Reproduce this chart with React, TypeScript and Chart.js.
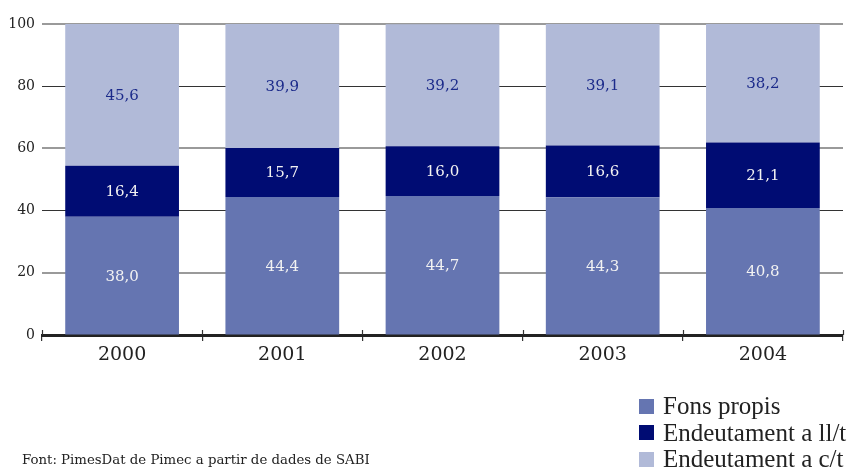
import React, { useEffect, useRef } from "react";
import { Chart, registerables } from "chart.js";
Chart.register(...registerables);

const years = ["2000", "2001", "2002", "2003", "2004"];
const fonsPropis = [38.0, 44.4, 44.7, 44.3, 40.8];
const endeutamentLlt = [16.4, 15.7, 16.0, 16.6, 21.1];
const endeutamentCt = [45.6, 39.9, 39.2, 39.1, 38.2];
const seriesNames = ["Fons propis", "Endeutament a ll/t", "Endeutament a c/t"];
const seriesColors = ["#6575B1", "#000C73", "#B1BAD8"];
const labelColors = ["#F2F2F2", "#F2F2F2", "#1B2A8A"];
const source = "Font: PimesDat de Pimec a partir de dades de SABI";

const segLabels = {
  id: "segLabels",
  afterDatasetsDraw(chart: any) {
    const ctx = chart.ctx;
    ctx.save();
    ctx.font = "15px 'DejaVu Serif'";
    ctx.textAlign = "center";
    ctx.textBaseline = "middle";
    chart.data.datasets.forEach((ds: any, i: number) => {
      const meta = chart.getDatasetMeta(i);
      ctx.fillStyle = labelColors[i];
      meta.data.forEach((bar: any, j: number) => {
        const v = ds.data[j] as number;
        const y = (bar.y + bar.base) / 2;
        ctx.fillText(v.toFixed(1).replace(".", ","), bar.x, y + 1);
      });
    });
    ctx.restore();
  },
};

const upTicks = {
  id: "upTicks",
  afterDraw(chart: any) {
    const ctx = chart.ctx;
    const area = chart.chartArea;
    const n = years.length;
    const w = (area.right - area.left) / n;
    ctx.save();
    ctx.strokeStyle = "#333";
    ctx.lineWidth = 1.2;
    for (let i = 0; i <= n; i++) {
      const x = Math.round(area.left + i * w) + 0.5;
      ctx.beginPath();
      ctx.moveTo(x, area.bottom - 5);
      ctx.lineTo(x, area.bottom);
      ctx.stroke();
    }
    ctx.restore();
  },
};

export default function App() {
  const ref = useRef<HTMLCanvasElement | null>(null);
  useEffect(() => {
    if (!ref.current) return;
    const datasets = [fonsPropis, endeutamentLlt, endeutamentCt].map((d, i) => ({
      label: seriesNames[i],
      data: d,
      backgroundColor: seriesColors[i],
      borderWidth: 0,
      barPercentage: 0.71,
      categoryPercentage: 1,
    }));
    const chart = new Chart(ref.current, {
      type: "bar",
      data: { labels: years, datasets },
      options: {
        responsive: false,
        animation: false,
        layout: { padding: { left: 0, right: 6, top: 24, bottom: 0 } },
        plugins: { legend: { display: false }, tooltip: { enabled: false } },
        scales: {
          x: {
            stacked: true,
            grid: {
              offset: true,
              drawOnChartArea: false,
              drawTicks: true,
              tickLength: 6,
              color: "#333",
              lineWidth: 1.2,
            },
            border: { display: true, width: 3, color: "#222" },
            ticks: {
              font: { family: "'DejaVu Serif'", size: 19 },
              color: "#222",
              padding: 3,
            },
            afterFit(s: any) {
              s.height = 133;
            },
          },
          y: {
            stacked: true,
            min: 0,
            max: 100,
            ticks: {
              stepSize: 20,
              font: { family: "'DejaVu Serif'", size: 14 },
              color: "#222",
              padding: 7,
            },
            grid: {
              drawTicks: false,
              color: (c: any) =>
                c.tick && c.tick.value === 0
                  ? "rgba(0,0,0,0)"
                  : c.tick && c.tick.value % 40 === 0
                  ? "#333"
                  : "#9A9A9A",
              lineWidth: (c: any) => (c.tick && c.tick.value % 40 === 0 ? 1 : 2),
            },
            border: { display: false },
            afterFit(s: any) {
              s.width = 42;
            },
          },
        },
      },
      plugins: [segLabels, upTicks],
    });
    return () => chart.destroy();
  }, []);

  return (
    <div style={{ position: "absolute", left: 0, top: 0, width: 849, height: 468, background: "#fff", overflow: "hidden" }}>
      <canvas ref={ref} width={849} height={468} style={{ position: "absolute", left: 0, top: 0 }} />
      <div
        style={{
          position: "absolute",
          left: 22,
          top: 452,
          fontFamily: "'DejaVu Serif'",
          fontSize: 13.3,
          lineHeight: "16px",
          color: "#222",
          whiteSpace: "nowrap",
        }}
      >
        {source}
      </div>
      {seriesNames.map((name, i) => (
        <div
          key={name}
          style={{
            position: "absolute",
            left: 639,
            top: 393 + i * 26.5,
            height: 26,
            display: "flex",
            alignItems: "center",
            whiteSpace: "nowrap",
          }}
        >
          <span style={{ display: "inline-block", width: 15, height: 15, background: seriesColors[i], marginRight: 9 }} />
          <span style={{ fontFamily: "'Liberation Serif'", fontSize: 25, color: "#222", lineHeight: "26px" }}>{name}</span>
        </div>
      ))}
    </div>
  );
}
